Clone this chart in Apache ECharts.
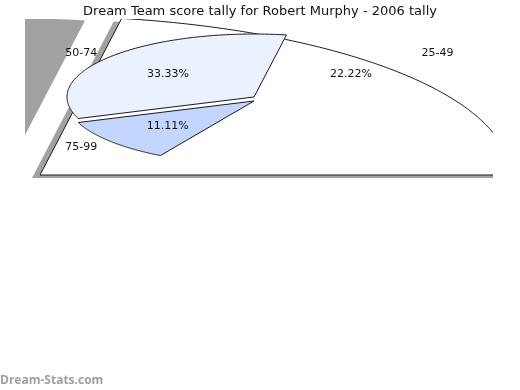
<!DOCTYPE html>
<html>
<head>
<meta charset="utf-8">
<style>html,body{margin:0;padding:0;background:#fff}#c{width:520px;height:390px}</style>
<script src="https://cdn.jsdelivr.net/npm/echarts@6/dist/echarts.min.js"></script>
</head>
<body>
<div id="c"></div>
<script>
// Data
const categories = ['25-49', '50-74', '75-99'];
const percentages = [22.22, 33.33, 11.11];
const titleText = 'Dream Team score tally for Robert Murphy - 2006 tally';
const watermark = 'Dream-Stats.com';

// Styling and layout
const sliceColors = ['#ffffff', '#eaf1ff', '#c3d6ff'];
const shadowColor = '#a2a2a2';
const outline = '#1a1a1a';
const sliceCentres = [[40, 175], [254, 97], [254, 101]];
const sliceRadii = [[470, 159], [187, 63], [187, 63]];
const shadows = [
  { slice: 1, centre: [3, 177], radii: [472, 159] },
  { slice: 0, centre: [32, 178], radii: [470, 159] }
];
const clipBox = { x: 25, y: 19, width: 468, height: 159 };
const labelCentre = [259.4, 100];
const percentRadii = [119.5, 40.4];
const categoryRadii = [232.5, 73];

const spans = [];
percentages.reduce(function (start, v) {
  const end = start + v / 100 * 2 * Math.PI;
  spans.push([start, end]);
  return end;
}, 0);

function wedge(centre, radii, span) {
  const pts = [centre.slice()];
  const n = 160;
  for (let i = 0; i <= n; i++) {
    const t = span[0] + (span[1] - span[0]) * i / n;
    pts.push([centre[0] + radii[0] * Math.cos(t), centre[1] - radii[1] * Math.sin(t)]);
  }
  return pts;
}
function clipped(child) {
  return { type: 'group', clipPath: { type: 'rect', shape: clipBox }, children: [child] };
}
function textEl(text, x, y) {
  return {
    type: 'text', silent: true,
    style: { text: text, x: x, y: y, align: 'center', verticalAlign: 'middle',
      font: '11px "DejaVu Sans"', fill: '#111' }
  };
}

const chart = echarts.init(document.getElementById('c'), null, { renderer: 'canvas' });
chart.setOption({
  animation: false,
  backgroundColor: '#fff',
  title: {
    text: titleText, left: 'center', top: 0,
    textStyle: { fontFamily: 'DejaVu Sans', fontSize: 13, fontWeight: 'normal', color: '#111' }
  },
  graphic: [{
    type: 'text', left: 0, top: 375,
    style: { text: watermark, font: 'bold 12px "Open Sans"', fill: '#a0a0a0' }
  }],
  series: [
    {
      type: 'custom', coordinateSystem: 'none', silent: true,
      data: shadows.map(function (s) { return percentages[s.slice]; }),
      renderItem: function (p) {
        const s = shadows[p.dataIndex];
        return clipped({
          type: 'polygon',
          shape: { points: wedge(s.centre, s.radii, spans[s.slice]) },
          style: { fill: shadowColor, stroke: null }
        });
      }
    },
    {
      type: 'custom', coordinateSystem: 'none', silent: true,
      data: percentages,
      renderItem: function (p) {
        const i = p.dataIndex;
        return clipped({
          type: 'polygon',
          shape: { points: wedge(sliceCentres[i], sliceRadii[i], spans[i]) },
          style: { fill: sliceColors[i], stroke: outline, lineWidth: 1 }
        });
      }
    },
    {
      type: 'custom', coordinateSystem: 'none', silent: true,
      data: percentages,
      renderItem: function (p) {
        const i = p.dataIndex;
        const mid = (spans[i][0] + spans[i][1]) / 2;
        const c = Math.cos(mid), s = Math.sin(mid);
        return {
          type: 'group',
          children: [
            textEl(percentages[i].toFixed(2) + '%', labelCentre[0] + percentRadii[0] * c, labelCentre[1] - percentRadii[1] * s),
            textEl(categories[i], labelCentre[0] + categoryRadii[0] * c, labelCentre[1] - categoryRadii[1] * s)
          ]
        };
      }
    }
  ]
});
</script>
</body>
</html>
